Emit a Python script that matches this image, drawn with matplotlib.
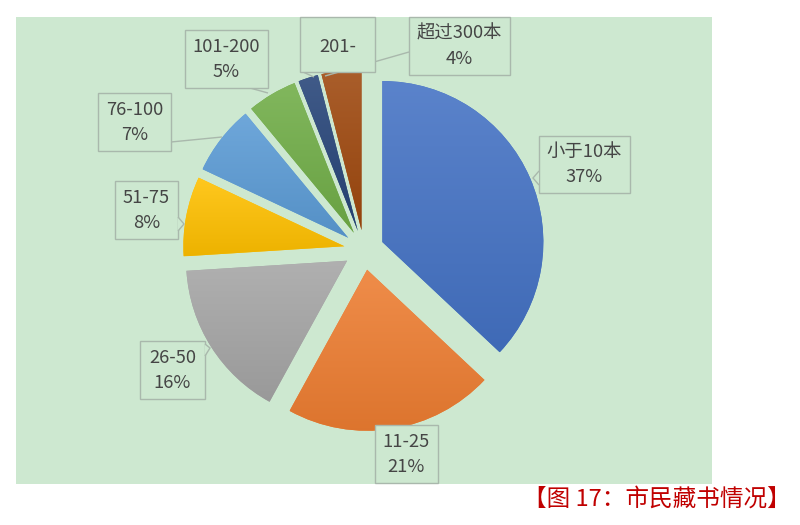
import matplotlib
matplotlib.use('Agg')
import matplotlib.pyplot as plt
import numpy as np
from matplotlib.patches import Rectangle, Polygon
from matplotlib.colors import to_rgb

plt.rcParams['font.family'] = ['Noto Sans CJK SC', 'DejaVu Sans']

# ---------------- data ----------------
categories = ['小于10本', '11-25', '26-50', '51-75', '76-100', '101-200', '201-', '超过300本']
percents = [37, 21, 16, 8, 7, 5, 2, 4]
show_pct = [True, True, True, True, True, True, False, True]
colors = ['#4472C4', '#ED7D31', '#A5A5A5', '#FFC000', '#5B9BD5', '#70AD47', '#264478', '#9E480E']
caption = '【图 17：市民藏书情况】'

# ---------------- layout (pixels) ----------------
W, H = 800, 525
CX, CY, R = 364, 250, 161
EXPLODE_PX = 20
BG = '#CDE8D0'
BORDER = '#A9B8AC'
TXT = '#454545'
FS = 13.2

# label boxes: left, top, right, bottom
boxes = [
    (539, 136, 630, 193),
    (375, 425, 438, 483),
    (140, 341, 205, 399),
    (115, 181, 178, 239),
    (98, 93, 171, 151),
    (185, 30, 268, 88),
    (300, 17, 375, 72),
    (409, 17, 510, 75),
]
leaders = [
    [(171, 142), (222, 137)],
    [(250, 88), (268, 93)],
    [(303, 72), (314, 77)],
    [(409, 52), (325, 76)],
]
notches = [
    [(539, 171), (533, 178), (539, 185)],
    [(178, 217), (184, 224), (178, 231)],
    [(205, 344), (210, 348), (205, 356)],
]

fig = plt.figure(figsize=(8, 5.25), dpi=100)
ax = fig.add_axes([0, 0, 1, 1])


def P(x, y):
    return ((x - CX) / R, (CY - y) / R)


def set_limits():
    ax.set_aspect('auto')
    ax.set_xlim(-CX / R, (W - CX) / R)
    ax.set_ylim((CY - H) / R, CY / R)
    ax.axis('off')


# background panel
x0, y0 = P(16, 484)
ax.add_patch(Rectangle((x0, y0), 696 / R, 467 / R, facecolor=BG, edgecolor='none', zorder=0))

wedges, _ = ax.pie(percents, colors=colors, startangle=90, counterclock=False,
                   explode=[EXPLODE_PX / R] * len(percents), radius=1, center=(0, 0),
                   wedgeprops=dict(linewidth=0, zorder=1))


def mix(c, t, k):
    c = np.array(to_rgb(c))
    return c + (np.array(t) - c) * k


for w, c in zip(wedges, colors):
    v = w.get_path().vertices
    xmin, xmax = v[:, 0].min(), v[:, 0].max()
    ymin, ymax = v[:, 1].min(), v[:, 1].max()
    top = mix(c, (1, 1, 1), 0.12)
    bot = mix(c, (0, 0, 0), 0.07)
    t = np.linspace(0, 1, 64)[:, None]
    grad = (top[None, :] * (1 - t) + bot[None, :] * t)[:, None, :]
    im = ax.imshow(grad, extent=[xmin, xmax, ymin, ymax], origin='upper',
                   aspect='auto', interpolation='bilinear', zorder=2)
    im.set_clip_path(w)

set_limits()

# leader lines
for seg in leaders:
    xs, ys = zip(*[P(*p) for p in seg])
    ax.plot(xs, ys, color=BORDER, lw=1, zorder=3, solid_capstyle='butt')

# label boxes & text
for cat, pct, show, (l, t, r, b) in zip(categories, percents, show_pct, boxes):
    bx, by = P(l, b)
    ax.add_patch(Rectangle((bx, by), (r - l) / R, (b - t) / R, facecolor=BG,
                           edgecolor=BORDER, lw=1, zorder=4))
    cx = (l + r) / 2
    if show:
        ax.text(*P(cx, b - 41), cat, ha='center', va='center', fontsize=FS, color=TXT, zorder=5)
        ax.text(*P(cx, b - 16), f'{pct}%', ha='center', va='center', fontsize=FS, color=TXT, zorder=5)
    else:
        ax.text(*P(cx, b - 25), cat, ha='center', va='center', fontsize=FS, color=TXT, zorder=5)

for n in notches:
    ax.add_patch(Polygon([P(*p) for p in n], closed=False, facecolor=BG,
                         edgecolor=BORDER, lw=1, zorder=4.5))

fig.text(657 / W, 1 - 499 / H, caption, ha='center', va='center', fontsize=17,
         color='#C00000', weight='medium')

fig.savefig('out.png', dpi=100, facecolor='white')
